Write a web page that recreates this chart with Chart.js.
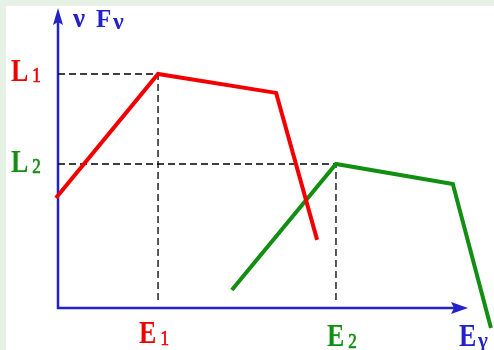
<!DOCTYPE html>
<html>
<head>
<meta charset="utf-8">
<script src="https://cdn.jsdelivr.net/npm/chart.js"></script>
<style>
  html, body { margin: 0; padding: 0; background: #e6f2e6; }
  #contenedor { position: relative; width: 494px; height: 350px; }
</style>
</head>
<body>
<div id="contenedor"><canvas id="myChart" width="494" height="350"></canvas></div>
<script>
// Energías y luminosidades de los dos picos
const energias = [2.44, 6.78];        // E1, E2
const luminosidades = [7.8, 4.8];     // L1, L2

// Espectro rojo (x = energía, y = ν Fν)
const rojoX = [-0.05, 2.44, 5.32, 6.32];
const rojoY = [3.67, 7.8, 7.17, 2.27];

// Espectro verde
const verdeX = [4.24, 6.78, 9.63, 10.56];
const verdeY = [0.6, 4.8, 4.13, -0.67];

// Subíndices de las etiquetas
const subindices = ['1', '2'];

const ROJO = '#f20000';
const VERDE = '#128f12';
const AZUL = '#2222c8';
const SERIF = '"Liberation Serif", "DejaVu Serif", serif';

let chart;

// Convierte dos listas en puntos {x, y}
function puntos(xs, ys) {
  return xs.map((x, i) => ({ x: x, y: ys[i] }));
}

// Fondo blanco dejando el borde verde arriba y a la izquierda
const fondo = {
  id: 'fondo',
  beforeDraw(chart) {
    const ctx = chart.ctx;
    ctx.save();
    ctx.fillStyle = '#ffffff';
    ctx.fillRect(6, 6, chart.width - 6, chart.height - 6);
    ctx.restore();
  }
};

// Ejes azules con flecha
const ejes = {
  id: 'ejes',
  beforeDatasetsDraw(chart) {
    const ctx = chart.ctx;
    const { top, right } = chart.chartArea;
    const x0 = chart.scales.x.getPixelForValue(0);
    const y0 = chart.scales.y.getPixelForValue(0);
    ctx.save();
    ctx.strokeStyle = AZUL;
    ctx.fillStyle = AZUL;
    ctx.lineWidth = 2.5;
    ctx.beginPath();
    ctx.moveTo(x0, y0 + 1);
    ctx.lineTo(x0, top + 12);
    ctx.moveTo(x0 - 1, y0);
    ctx.lineTo(right - 12, y0);
    ctx.stroke();
    // punta vertical
    ctx.beginPath();
    ctx.moveTo(x0, top);
    ctx.lineTo(x0 - 5, top + 17);
    ctx.lineTo(x0, top + 14);
    ctx.lineTo(x0 + 5, top + 17);
    ctx.closePath();
    ctx.fill();
    // punta horizontal
    ctx.beginPath();
    ctx.moveTo(right, y0);
    ctx.lineTo(right - 17, y0 - 6);
    ctx.lineTo(right - 14, y0);
    ctx.lineTo(right - 17, y0 + 6);
    ctx.closePath();
    ctx.fill();
    ctx.restore();
  }
};

// Dibuja una letra con su subíndice (estirada en vertical)
function etiqueta(ctx, letra, sub, x, y, color, subDy) {
  ctx.save();
  ctx.fillStyle = color;
  ctx.textBaseline = 'alphabetic';
  ctx.textAlign = 'left';
  ctx.font = 'bold 26px ' + SERIF;
  const ancho = ctx.measureText(letra).width;
  ctx.save();
  ctx.translate(x, y);
  ctx.scale(1, 1.22);
  ctx.fillText(letra, 0, 0);
  ctx.restore();
  ctx.font = '17px ' + SERIF;
  ctx.save();
  ctx.translate(x + ancho + 4, y + subDy);
  ctx.scale(1, 1.22);
  ctx.fillText(sub, 0, 0);
  ctx.strokeStyle = color;
  ctx.lineWidth = 0.6;
  ctx.strokeText(sub, 0, 0);
  ctx.restore();
  ctx.restore();
}

// Textos: L1, L2, E1, E2, Eγ y ν Fν
const textos = {
  id: 'textos',
  afterDraw(chart) {
    const ctx = chart.ctx;
    const sx = chart.scales.x;
    const sy = chart.scales.y;
    const { top, right } = chart.chartArea;
    const x0 = sx.getPixelForValue(0);
    const y0 = sy.getPixelForValue(0);
    const colores = [ROJO, VERDE];

    luminosidades.forEach((l, i) => {
      etiqueta(ctx, 'L', subindices[i], 11, sy.getPixelForValue(l) + 7 + i, colores[i], 1);
    });
    const dxE = [-19, -9];
    const dyE = [35, 38];
    energias.forEach((e, i) => {
      etiqueta(ctx, 'E', subindices[i], sx.getPixelForValue(e) + dxE[i], y0 + dyE[i], colores[i], 2);
    });

    // Eγ al final del eje horizontal
    ctx.save();
    ctx.fillStyle = AZUL;
    ctx.font = 'bold 26px ' + SERIF;
    ctx.save();
    ctx.translate(right - 9, y0 + 38);
    ctx.scale(1, 1.22);
    ctx.fillText('E', 0, 0);
    ctx.restore();
    ctx.font = 'bold 21px ' + SERIF;
    ctx.fillText('γ', right + 10, y0 + 39);

    // ν Fν junto a la flecha vertical
    ctx.font = 'bold 27px ' + SERIF;
    ctx.fillText('ν', x0 + 15, top + 19);
    ctx.font = 'bold 25px ' + SERIF;
    ctx.fillText('F', x0 + 38, top + 19);
    ctx.font = 'bold 24px ' + SERIF;
    ctx.fillText('ν', x0 + 55, top + 21);
    ctx.restore();
  }
};

const ctx = document.getElementById('myChart').getContext('2d');
chart = new Chart(ctx, {
  type: 'scatter',
  data: {
    datasets: [
      {
        data: puntos(rojoX, rojoY),
        showLine: true,
        borderColor: ROJO,
        borderWidth: 4,
        pointRadius: 0,
        clip: false
      },
      {
        data: puntos(verdeX, verdeY),
        showLine: true,
        borderColor: VERDE,
        borderWidth: 4,
        pointRadius: 0,
        clip: false
      },
      {
        // guías punteadas de L1 / E1
        data: puntos([0, energias[0], energias[0]], [luminosidades[0], luminosidades[0], 0.15]),
        showLine: true,
        borderColor: '#000000',
        borderWidth: 1.3,
        borderDash: [7, 4],
        pointRadius: 0,
        clip: false
      },
      {
        // guías punteadas de L2 / E2
        data: puntos([0, energias[1], energias[1]], [luminosidades[1], luminosidades[1], 0.15]),
        showLine: true,
        borderColor: '#000000',
        borderWidth: 1.3,
        borderDash: [7, 4],
        pointRadius: 0,
        clip: false
      }
    ]
  },
  options: {
    responsive: false,
    animation: false,
    devicePixelRatio: 1,
    layout: { padding: { left: 58, right: 26, top: 8, bottom: 42 } },
    plugins: {
      legend: { display: false },
      tooltip: { enabled: false }
    },
    scales: {
      x: { type: 'linear', min: 0, max: 10, display: false },
      y: { type: 'linear', min: 0, max: 10, display: false }
    }
  },
  plugins: [fondo, ejes, textos]
});
</script>
</body>
</html>
